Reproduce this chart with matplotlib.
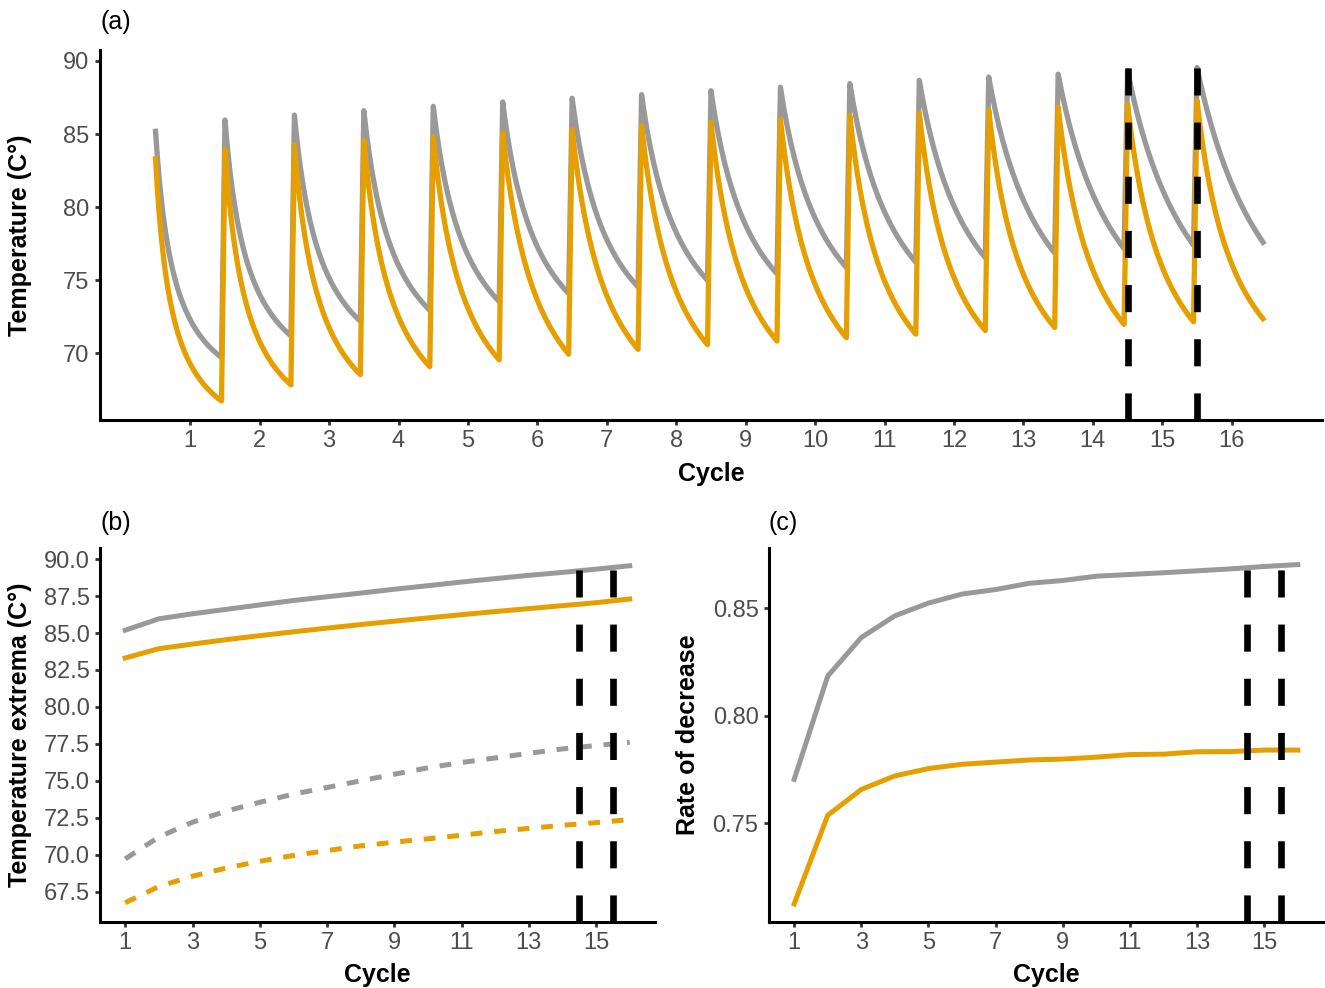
import numpy as np
import matplotlib
matplotlib.use('Agg')
from matplotlib import pyplot as plt

plt.rcParams['font.family'] = ['Liberation Sans', 'DejaVu Sans']
plt.rcParams['lines.scale_dashes'] = False

# cycles and per-cycle extrema
cycles = np.arange(1, 17)
gray_max = [85.19, 85.96, 86.3, 86.6, 86.9, 87.2, 87.45, 87.7, 87.96, 88.2, 88.45, 88.68, 88.9, 89.1, 89.32, 89.55]
orange_max = [83.31, 83.94, 84.25, 84.55, 84.82, 85.08, 85.33, 85.57, 85.8, 86.02, 86.24, 86.45, 86.65, 86.85, 87.05, 87.3]
gray_min = [69.72, 71.2, 72.2, 72.95, 73.55, 74.1, 74.55, 75.0, 75.45, 75.88, 76.24, 76.55, 76.86, 77.16, 77.39, 77.6]
orange_min = [66.75, 67.85, 68.55, 69.1, 69.56, 69.95, 70.28, 70.6, 70.85, 71.08, 71.32, 71.57, 71.78, 71.99, 72.17, 72.38]

# rate of decrease, panel (c)
gray_rate = [0.7704, 0.8184, 0.8363, 0.8464, 0.8523, 0.8565, 0.8586, 0.8615, 0.8628, 0.8648, 0.8656, 0.8664, 0.8673, 0.8682, 0.8693, 0.8702]
orange_rate = [0.7125, 0.7537, 0.7657, 0.772, 0.7754, 0.7774, 0.7784, 0.7794, 0.7798, 0.7807, 0.7819, 0.7821, 0.7832, 0.7833, 0.784, 0.784]

# how sharply each cooling curve in panel (a) bends
gray_bend = [3.5, 2.8, 2.4, 2.1, 1.9, 1.8, 1.7, 1.6, 1.5, 1.4, 1.3, 1.2, 1.1, 1.0, 0.9, 0.8]
orange_bend = [4.0, 3.0, 2.5, 2.2, 2.0, 1.8, 1.8, 1.8, 1.8, 1.8, 1.8, 1.8, 1.8, 1.7, 1.7, 1.7]

marked = [14.5, 15.5]

GRAY = '#999999'
ORANGE = '#E69F00'
W, H = 1325, 988
TICK = 17
TITLE = 18


def px_axes(l, t, r, b):
    return fig.add_axes([l / W, 1 - b / H, (r - l) / W, (b - t) / H])


def style(ax):
    for s in ['top', 'right']:
        ax.spines[s].set_visible(False)
    for s in ['left', 'bottom']:
        ax.spines[s].set_linewidth(2.2)
        ax.spines[s].set_color('black')
    ax.tick_params(length=3.5, width=2.0, color='#333333', labelcolor='#4D4D4D',
                   labelsize=TICK, pad=4)


def vlines(ax):
    for xv in marked:
        ax.axvline(xv, color='black', lw=4.8, dashes=(19.5, 19.5), zorder=5)


def trace(peaks, troughs, bends):
    s = np.linspace(0, 1, 39)
    xs, ys = [], []
    for c, p, t, k in zip(cycles, peaks, troughs, bends):
        xs.extend(c - 0.5 + 0.95 * s)
        ys.extend(t + (p - t) * (1 - s) / (1 + k * s))
    return xs, ys


fig = plt.figure(figsize=(W / 100, H / 100), dpi=100)

# ---- (a) temperature trace
ax_a = px_axes(100, 50, 1322, 420)
gx, gy = trace(gray_max, gray_min, gray_bend)
ox, oy = trace(orange_max, orange_min, orange_bend)
ax_a.plot(gx, gy, color=GRAY, lw=3.8)
ax_a.plot(ox, oy, color=ORANGE, lw=3.8)
vlines(ax_a)
ax_a.set_xlim(-0.3, 17.3)
ax_a.set_ylim(65.45, 90.75)
ax_a.set_xticks(cycles)
ax_a.set_yticks([70, 75, 80, 85, 90])
style(ax_a)
ax_a.set_xlabel('Cycle', fontsize=TITLE, fontweight='bold')
ax_a.set_ylabel('Temperature (C°)', fontsize=TITLE, fontweight='bold')
ax_a.xaxis.set_label_coords(0.5, (420 - 474) / 370)
ax_a.xaxis.label.set_va('center')
ax_a.yaxis.set_label_coords((20 - 100) / 1222, 0.5)
ax_a.yaxis.label.set_va('center')

# ---- (b) extrema
ax_b = px_axes(100, 548, 655, 922)
ax_b.plot(cycles, gray_max, color=GRAY, lw=3.6)
ax_b.plot(cycles, orange_max, color=ORANGE, lw=3.6)
ax_b.plot(cycles, gray_min, color=GRAY, lw=3.6, dashes=(8.5, 8.5))
ax_b.plot(cycles, orange_min, color=ORANGE, lw=3.6, dashes=(8.5, 8.5))
vlines(ax_b)
ax_b.set_xlim(0.25, 16.75)
ax_b.set_ylim(65.45, 90.75)
ax_b.set_xticks(np.arange(1, 16, 2))
yt = np.arange(67.5, 90.1, 2.5)
ax_b.set_yticks(yt)
ax_b.set_yticklabels(['%.1f' % v for v in yt])
style(ax_b)
ax_b.set_xlabel('Cycle', fontsize=TITLE, fontweight='bold')
ax_b.set_ylabel('Temperature extrema (C°)', fontsize=TITLE, fontweight='bold')
ax_b.xaxis.set_label_coords(0.5, (922 - 975) / 374)
ax_b.xaxis.label.set_va('center')
ax_b.yaxis.set_label_coords((20 - 100) / 555, 0.5)
ax_b.yaxis.label.set_va('center')

# ---- (c) rate of decrease
ax_c = px_axes(769, 548, 1323, 922)
ax_c.plot(cycles, gray_rate, color=GRAY, lw=3.6)
ax_c.plot(cycles, orange_rate, color=ORANGE, lw=3.6)
vlines(ax_c)
ax_c.set_xlim(0.25, 16.75)
ax_c.set_ylim(0.7041, 0.8779)
ax_c.set_xticks(np.arange(1, 16, 2))
ax_c.set_yticks([0.75, 0.80, 0.85])
ax_c.set_yticklabels(['0.75', '0.80', '0.85'])
style(ax_c)
ax_c.set_xlabel('Cycle', fontsize=TITLE, fontweight='bold')
ax_c.set_ylabel('Rate of decrease', fontsize=TITLE, fontweight='bold')
ax_c.xaxis.set_label_coords(0.5, (922 - 975) / 374)
ax_c.xaxis.label.set_va('center')
ax_c.yaxis.set_label_coords((688 - 769) / 554, 0.5)
ax_c.yaxis.label.set_va('center')

fig.text(100 / W, 1 - 22 / H, '(a)', fontsize=TITLE, ha='left', va='center')
fig.text(100 / W, 1 - 523 / H, '(b)', fontsize=TITLE, ha='left', va='center')
fig.text(769 / W, 1 - 523 / H, '(c)', fontsize=TITLE, ha='left', va='center')

fig.savefig('out.png', dpi=100)
